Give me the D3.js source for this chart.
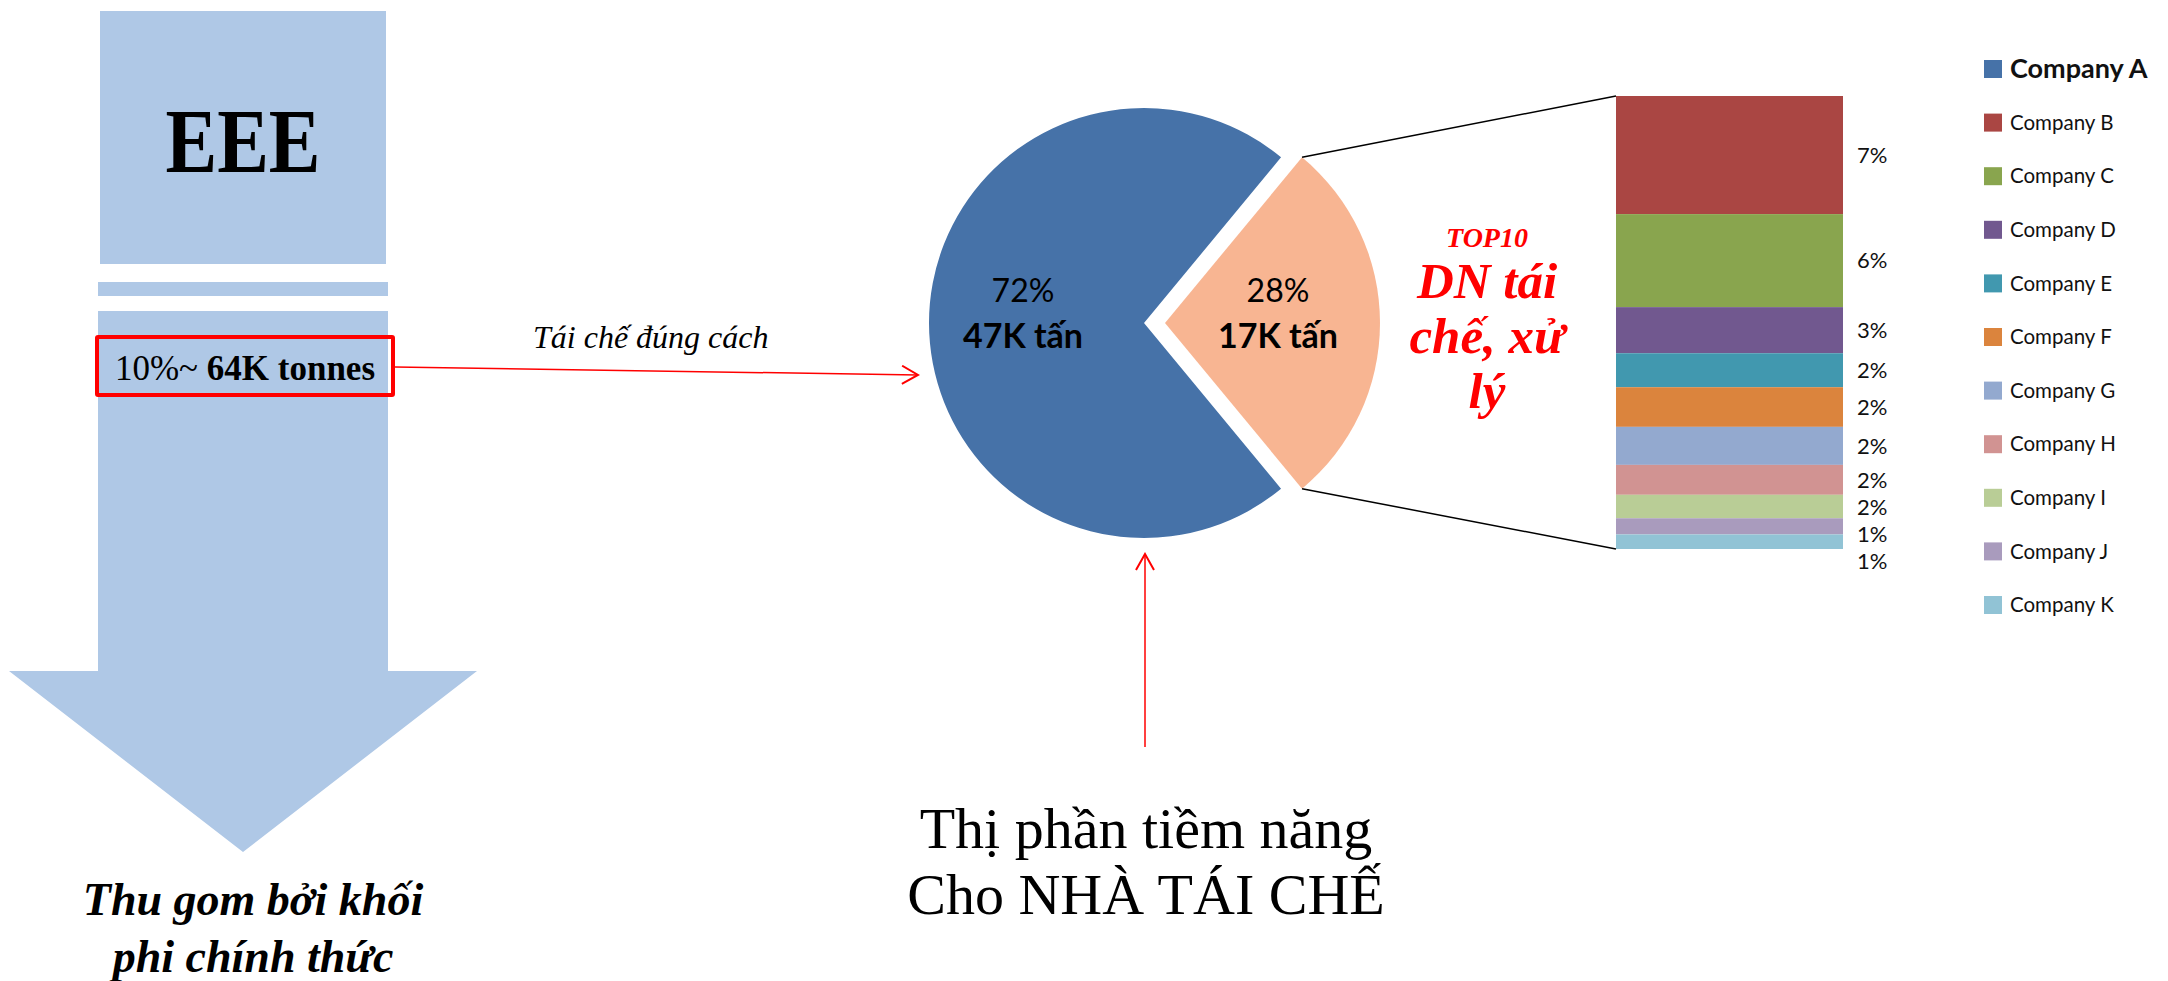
<!DOCTYPE html>
<html>
<head>
<meta charset="utf-8">
<script src="https://cdn.jsdelivr.net/npm/d3@7"></script>
<style>
  body { margin: 0; background: #fff; }
</style>
</head>
<body>
<div id="chart-area"></div>
<script>
// data
var companies = ["Company A", "Company B", "Company C", "Company D", "Company E", "Company F",
                 "Company G", "Company H", "Company I", "Company J", "Company K"];
var colors = ["#4672A8", "#AA4643", "#89A54E", "#71588F", "#4198AF", "#DB843D",
              "#93A9CF", "#D19392", "#B9CD96", "#A99BBD", "#91C3D5"];
var pieShares = [72, 28];
var pieLabels = ["72%", "28%"];
var pieTonnes = ["47K tấn", "17K tấn"];
var pieColors = ["#4672A8", "#F8B592"];
var top10Shares = [7.3, 5.75, 2.85, 2.1, 2.45, 2.35, 1.85, 1.45, 1.0, 0.9];
var top10Labels = ["7%", "6%", "3%", "2%", "2%", "2%", "2%", "2%", "1%", "1%"];

var W = 2168, H = 981;
var serif = "'Liberation Serif', 'Times New Roman', serif";
var sans = "Lato, 'Open Sans', sans-serif";

var svg = d3.select("#chart-area").append("svg")
    .attr("width", W)
    .attr("height", H);

svg.append("defs").append("marker")
    .attr("id", "open-arrow")
    .attr("viewBox", "0 0 20 20")
    .attr("refX", 18).attr("refY", 10)
    .attr("markerWidth", 20).attr("markerHeight", 20)
    .attr("markerUnits", "userSpaceOnUse")
    .attr("orient", "auto")
    .append("path")
    .attr("d", "M2,1 L18,10 L2,19")
    .attr("fill", "none")
    .attr("stroke", "red")
    .attr("stroke-width", 2);

// left block: EEE box + big arrow
var light = "#AFC8E6";
svg.append("rect").attr("x", 100).attr("y", 11).attr("width", 286).attr("height", 253).attr("fill", light);
svg.append("rect").attr("x", 98).attr("y", 282).attr("width", 290).attr("height", 14).attr("fill", light);
svg.append("path")
    .attr("d", "M98,311 L388,311 L388,671 L477,671 L243,852 L9,671 L98,671 Z")
    .attr("fill", light);

svg.append("text")
    .attr("x", 243).attr("y", 172)
    .attr("text-anchor", "middle")
    .attr("font-family", serif).attr("font-weight", "bold")
    .attr("font-size", 92)
    .attr("textLength", 155).attr("lengthAdjust", "spacingAndGlyphs")
    .text("EEE");

svg.append("rect").attr("x", 97).attr("y", 337).attr("width", 296).attr("height", 58)
    .attr("fill", "none").attr("stroke", "red").attr("stroke-width", 4).attr("rx", 1);

var t1 = svg.append("text")
    .attr("x", 245).attr("y", 380)
    .attr("text-anchor", "middle")
    .attr("font-family", serif).attr("font-size", 35);
t1.append("tspan").text("10%~ ");
t1.append("tspan").attr("font-weight", "bold").text("64K tonnes");

var bottomLeft = ["Thu gom bởi khối", "phi chính thức"];
svg.selectAll(".bl").data(bottomLeft).enter().append("text")
    .attr("x", 253)
    .attr("y", (d, i) => 915 + i * 57)
    .attr("text-anchor", "middle")
    .attr("font-family", serif).attr("font-weight", "bold").attr("font-style", "italic")
    .attr("font-size", 46)
    .text(d => d);

// arrow to pie
svg.append("line")
    .attr("x1", 395).attr("y1", 367).attr("x2", 918).attr("y2", 375)
    .attr("stroke", "red").attr("stroke-width", 1.5)
    .attr("marker-end", "url(#open-arrow)");
svg.append("text")
    .attr("x", 533).attr("y", 348)
    .attr("font-family", serif).attr("font-style", "italic")
    .attr("font-size", 32)
    .text("Tái chế đúng cách");

// pie
var cx = 1144, cy = 323, r = 215, explode = 21;
var start = Math.PI / 2 + (pieShares[1] / 100) * Math.PI;
var pie = d3.pie().sort(null).startAngle(start).endAngle(start + 2 * Math.PI);
var arc = d3.arc().innerRadius(0).outerRadius(r);
var arcs = pie(pieShares);

var pieG = svg.append("g").attr("transform", "translate(" + cx + "," + cy + ")");
var slices = pieG.selectAll(".slice").data(arcs).enter().append("g")
    .attr("transform", (d, i) => {
        if (i === 0) return null;
        var a = (d.startAngle + d.endAngle) / 2;
        return "translate(" + (explode * Math.sin(a)) + "," + (-explode * Math.cos(a)) + ")";
    });
slices.append("path")
    .attr("d", arc)
    .attr("fill", (d, i) => pieColors[i]);

var labelPos = [[-121, 0], [113, 0]];
slices.append("text")
    .attr("x", (d, i) => labelPos[i][0])
    .attr("y", -21)
    .attr("text-anchor", "middle")
    .attr("font-family", sans).attr("font-size", 32)
    .text((d, i) => pieLabels[i]);
slices.append("text")
    .attr("x", (d, i) => labelPos[i][0])
    .attr("y", 25)
    .attr("text-anchor", "middle")
    .attr("font-family", sans).attr("font-weight", "bold").attr("font-size", 34)
    .text((d, i) => pieTonnes[i]);

// stacked bar of top 10
var barX = 1616, barW = 227, barTop = 96, barBottom = 549;
var total = d3.sum(top10Shares);
var y = d3.scaleLinear().domain([0, total]).range([barTop, barBottom]);
var cum = 0;
var segs = top10Shares.map((v, i) => {
    var s = { i: i, y0: cum, y1: cum + v };
    cum += v;
    return s;
});

svg.selectAll(".seg").data(segs).enter().append("rect")
    .attr("x", barX)
    .attr("y", d => y(d.y0))
    .attr("width", barW)
    .attr("height", d => y(d.y1) - y(d.y0))
    .attr("fill", d => colors[d.i + 1]);

// labels, pushed down when they would overlap
var prev = -1e9;
segs.forEach(d => {
    var c = (y(d.y0) + y(d.y1)) / 2;
    d.ly = Math.max(c, prev + 27);
    prev = d.ly;
});
svg.selectAll(".seglabel").data(segs).enter().append("text")
    .attr("x", 1857)
    .attr("y", d => d.ly)
    .attr("dy", "0.35em")
    .attr("font-family", sans).attr("font-size", 22)
    .attr("fill", "#111")
    .text(d => top10Labels[d.i]);

// connector lines from exploded slice to bar
var o = arcs[1];
var oc = (o.startAngle + o.endAngle) / 2;
var ox = cx + explode * Math.sin(oc), oy = cy - explode * Math.cos(oc);
var corner = a => [ox + r * Math.sin(a), oy - r * Math.cos(a)];
var pTop = corner(o.startAngle), pBot = corner(o.endAngle);
svg.append("line")
    .attr("x1", pTop[0]).attr("y1", pTop[1]).attr("x2", barX).attr("y2", barTop)
    .attr("stroke", "#000").attr("stroke-width", 1.5);
svg.append("line")
    .attr("x1", pBot[0]).attr("y1", pBot[1]).attr("x2", barX).attr("y2", barBottom)
    .attr("stroke", "#000").attr("stroke-width", 1.5);

// TOP10 title
svg.append("text")
    .attr("x", 1487).attr("y", 247)
    .attr("text-anchor", "middle")
    .attr("font-family", serif).attr("font-weight", "bold").attr("font-style", "italic")
    .attr("font-size", 28).attr("fill", "red")
    .text("TOP10");
var topLines = ["DN tái", "chế, xử", "lý"];
svg.selectAll(".tl").data(topLines).enter().append("text")
    .attr("x", 1487)
    .attr("y", (d, i) => 298 + i * 55)
    .attr("text-anchor", "middle")
    .attr("font-family", serif).attr("font-weight", "bold").attr("font-style", "italic")
    .attr("font-size", 51).attr("fill", "red")
    .text(d => d);

// bottom centre note + arrow
svg.append("line")
    .attr("x1", 1145).attr("y1", 747).attr("x2", 1145).attr("y2", 554)
    .attr("stroke", "red").attr("stroke-width", 1.5)
    .attr("marker-end", "url(#open-arrow)");
var noteLines = ["Thị phần tiềm năng", "Cho NHÀ TÁI CHẾ"];
svg.selectAll(".note").data(noteLines).enter().append("text")
    .attr("x", 1146)
    .attr("y", (d, i) => 848 + i * 66)
    .attr("text-anchor", "middle")
    .attr("font-family", serif).attr("font-size", 58)
    .text(d => d);

// legend
var legend = svg.selectAll(".legend").data(companies).enter().append("g")
    .attr("transform", (d, i) => "translate(1984," + (69 + i * 53.6) + ")");
legend.append("rect")
    .attr("x", 0).attr("y", -9)
    .attr("width", 18).attr("height", 18)
    .attr("fill", (d, i) => colors[i]);
legend.append("text")
    .attr("x", 26)
    .attr("dy", "0.35em")
    .attr("font-family", sans)
    .attr("font-size", (d, i) => i === 0 ? 27 : 20.5)
    .attr("font-weight", (d, i) => i === 0 ? "bold" : "normal")
    .attr("fill", "#111")
    .text(d => d);
</script>
</body>
</html>
